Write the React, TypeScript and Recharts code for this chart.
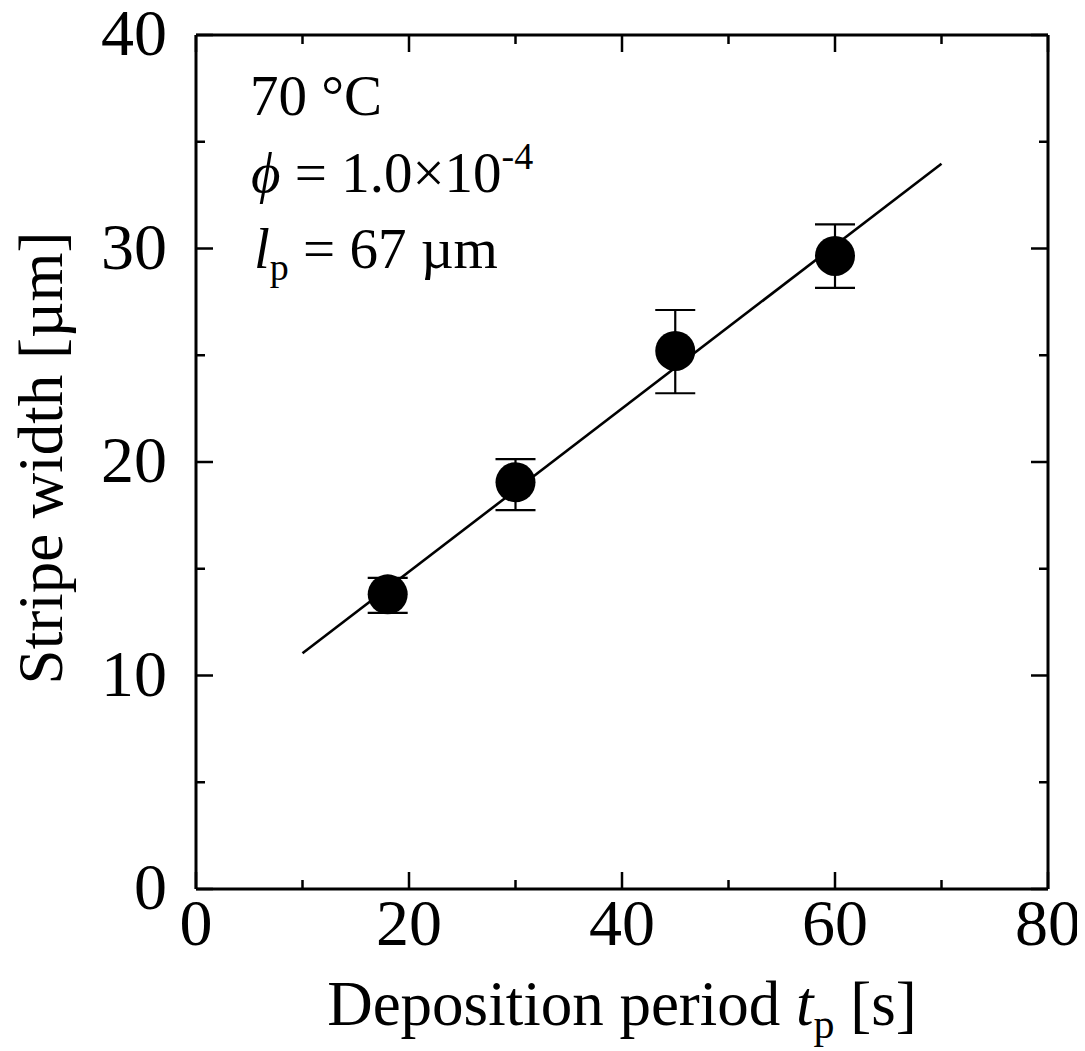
import React from 'react';
import { ComposedChart, Scatter, XAxis, YAxis, ErrorBar, Customized, ReferenceLine } from 'recharts';

// measured points: deposition period [s] vs stripe width [um]
const periods = [18, 30, 45, 60];
const widths = [13.8, 19.05, 25.2, 29.65];
const errLow = [12.93, 17.75, 23.22, 28.16];
const errHigh = [14.57, 20.13, 27.12, 31.13];

// linear fit, drawn between its two end points
const fitX = [10, 70];
const fitY = [11.04, 33.97];

const xTicks = [0, 10, 20, 30, 40, 50, 60, 70, 80];
const yTicks = [0, 5, 10, 15, 20, 25, 30, 35, 40];

const FONT = '"Liberation Serif", "Times New Roman", serif';
const MAJOR = 17;
const MINOR = 9;

const points = periods.map((x, i) => ({
  x,
  y: widths[i],
  err: [widths[i] - errLow[i], errHigh[i] - widths[i]],
}));
const fitLine = fitX.map((x, i) => ({ x, y: fitY[i] }));

const BottomTick = (props: any) => {
  const { x, y, payload } = props;
  const major = payload.value % 20 === 0;
  return (
    <g>
      <line x1={x} x2={x} y1={y} y2={y - (major ? MAJOR : MINOR)} stroke="#000" strokeWidth={2.5} />
      {major && (
        <text x={x} y={y + 56} textAnchor="middle" fontSize={66} fontFamily={FONT} fill="#000">
          {payload.value}
        </text>
      )}
    </g>
  );
};

const TopTick = (props: any) => {
  const { x, y, payload } = props;
  const major = payload.value % 20 === 0;
  return <line x1={x} x2={x} y1={y} y2={y + (major ? MAJOR : MINOR)} stroke="#000" strokeWidth={2.5} />;
};

const LeftTick = (props: any) => {
  const { x, y, payload } = props;
  const major = payload.value % 10 === 0;
  return (
    <g>
      <line x1={x} x2={x + (major ? MAJOR : MINOR)} y1={y} y2={y} stroke="#000" strokeWidth={2.5} />
      {major && (
        <text x={x - 29} y={y + 20} textAnchor="end" fontSize={66} fontFamily={FONT} fill="#000">
          {payload.value}
        </text>
      )}
    </g>
  );
};

const RightTick = (props: any) => {
  const { x, y, payload } = props;
  const major = payload.value % 10 === 0;
  return <line x1={x} x2={x - (major ? MAJOR : MINOR)} y1={y} y2={y} stroke="#000" strokeWidth={2.5} />;
};

const XLabel = (props: any) => {
  const { x, y, width } = props.viewBox;
  return (
    <text x={x + width / 2} y={y + 136} textAnchor="middle" fontSize={63} fontFamily={FONT} fill="#000">
      Deposition period <tspan fontStyle="italic">t</tspan>
      <tspan fontSize={42} dy={13}>p</tspan>
      <tspan dy={-13}> [s]</tspan>
    </text>
  );
};

const YLabel = (props: any) => {
  const { y, height } = props.viewBox;
  const cy = y + height / 2 - 4;
  return (
    <text
      x={54}
      y={cy}
      transform={`rotate(-90 54 ${cy})`}
      textAnchor="middle"
      fontSize={63}
      fontFamily={FONT}
      fill="#000"
    >
      Stripe width [µm]
    </text>
  );
};

const Notes = () => (
  <g fontFamily={FONT} fontSize={57} fill="#000">
    <text x={242} y={107}>70 °C</text>
    <text x={243} y={184}>
      <tspan fontStyle="italic">ϕ</tspan> = 1.0×10<tspan fontSize={38} dy={-23}>-4</tspan>
    </text>
    <text x={246} y={260}>
      <tspan fontStyle="italic">l</tspan>
      <tspan fontSize={38} dy={12}>p</tspan>
      <tspan dy={-12}> = 67 µm</tspan>
    </text>
  </g>
);

const Dot = (props: any) => <circle cx={props.cx} cy={props.cy} r={20} fill="#000" />;

export default function App() {
  const axisLine = { stroke: '#000', strokeWidth: 3 };
  return (
    <div style={{ width: 1077, height: 1043, background: '#fff' }}>
      <ComposedChart width={1077} height={1043} margin={{ top: 26, right: 36, bottom: 0, left: 0 }}>
        <XAxis
          dataKey="x"
          type="number"
          domain={[0, 80]}
          ticks={xTicks}
          interval={0}
          height={162}
          tickSize={0}
          tickMargin={0}
          tickLine={false}
          axisLine={axisLine}
          tick={<BottomTick />}
          label={{ content: <XLabel /> } as any}
        />
        <XAxis
          xAxisId="top"
          orientation="top"
          dataKey="x"
          type="number"
          domain={[0, 80]}
          ticks={xTicks}
          interval={0}
          height={1}
          tickSize={0}
          tickMargin={0}
          tickLine={false}
          axisLine={axisLine}
          tick={<TopTick />}
        />
        <YAxis
          dataKey="y"
          type="number"
          domain={[0, 40]}
          ticks={yTicks}
          interval={0}
          width={188}
          tickSize={0}
          tickMargin={0}
          tickLine={false}
          axisLine={axisLine}
          tick={<LeftTick />}
          label={{ content: <YLabel /> } as any}
        />
        <YAxis
          yAxisId="right"
          orientation="right"
          dataKey="y"
          type="number"
          domain={[0, 40]}
          ticks={yTicks}
          interval={0}
          width={1}
          tickSize={0}
          tickMargin={0}
          tickLine={false}
          axisLine={axisLine}
          tick={<RightTick />}
        />
        {/* invisible series so the mirror axes have data */}
        <Scatter
          data={fitLine}
          xAxisId="top"
          yAxisId="right"
          shape={() => <g />}
          isAnimationActive={false}
        />
        <ReferenceLine
          segment={fitLine}
          stroke="#000"
          strokeWidth={2.6}
          ifOverflow="visible"
        />
        <Scatter data={points} shape={<Dot />} isAnimationActive={false}>
          <ErrorBar dataKey="err" direction="y" width={20} stroke="#000" strokeWidth={2.2} />
        </Scatter>
        <Customized component={<Notes />} />
      </ComposedChart>
    </div>
  );
}
